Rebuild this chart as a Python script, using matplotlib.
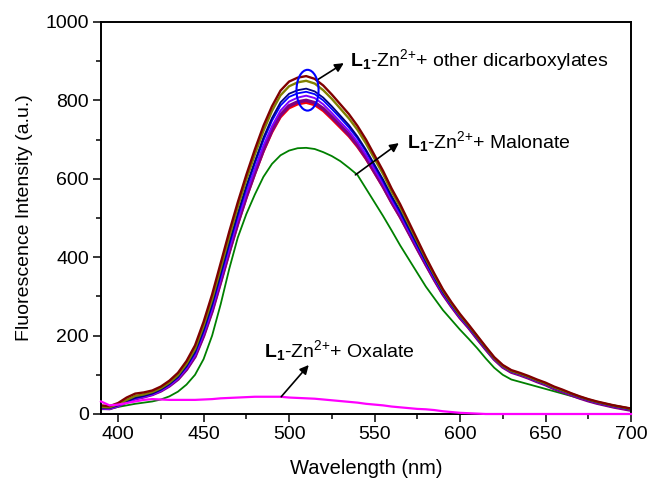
import matplotlib
matplotlib.use("Agg")
import matplotlib.pyplot as plt
from matplotlib.patches import Ellipse
from matplotlib.ticker import MultipleLocator

plt.rcParams['font.family'] = ['Liberation Sans', 'DejaVu Sans']
plt.rcParams['mathtext.fontset'] = 'custom'
plt.rcParams['mathtext.rm'] = 'Liberation Sans'
plt.rcParams['mathtext.it'] = 'Liberation Sans:italic'
plt.rcParams['mathtext.bf'] = 'Liberation Sans:bold'

# ---------------- data ----------------
wavelength = [390, 395, 400, 405, 410, 415, 420, 425, 430, 435, 440, 445, 450, 455, 460,
              465, 470, 475, 480, 485, 490, 495, 500, 505, 510, 515, 520, 525, 530, 535,
              540, 545, 550, 555, 560, 565, 570, 575, 580, 585, 590, 595, 600, 605, 610,
              615, 620, 625, 630, 635, 640, 645, 650, 655, 660, 665, 670, 675, 680, 685,
              690, 695, 700]

maroon = [22, 20, 28, 42, 52, 55, 60, 70, 85, 105, 135, 175, 235, 305, 385,
          465, 540, 610, 675, 735, 785, 825, 848, 858, 862, 855, 838, 815, 790, 765,
          735, 700, 660, 620, 575, 535, 490, 445, 400, 358, 318, 285, 255, 228, 200,
          172, 145, 125, 112, 105, 97, 88, 80, 70, 62, 53, 45, 38, 32, 27,
          22, 18, 14]
olive = [18, 17, 25, 36, 46, 50, 56, 66, 80, 99, 128, 166, 225, 293, 372,
         452, 528, 598, 662, 722, 773, 813, 836, 846, 850, 843, 826, 804, 779, 754,
         725, 690, 651, 612, 567, 528, 484, 440, 396, 354, 315, 282, 252, 226, 198,
         170, 143, 123, 110, 103, 95, 86, 78, 68, 60, 52, 44, 37, 31, 26,
         21, 17, 13]
navy = [16, 15, 22, 32, 41, 46, 52, 62, 76, 94, 122, 158, 214, 280, 358,
        437, 512, 582, 645, 705, 755, 795, 817, 826, 830, 823, 807, 785, 761, 737,
        708, 674, 636, 598, 556, 518, 475, 433, 390, 350, 311, 279, 250, 224, 196,
        168, 142, 122, 109, 102, 94, 85, 77, 67, 59, 51, 43, 36, 30, 25,
        20, 16, 12]
blue = [20, 18, 24, 34, 42, 47, 53, 63, 77, 95, 121, 156, 211, 277, 354,
        432, 507, 576, 639, 698, 748, 787, 809, 818, 822, 816, 800, 778, 755, 731,
        703, 670, 632, 594, 552, 514, 472, 430, 388, 348, 310, 278, 249, 223, 195,
        168, 142, 122, 109, 102, 94, 85, 77, 67, 59, 51, 43, 36, 30, 25,
        20, 16, 12]
violet = [14, 13, 20, 30, 38, 43, 49, 59, 72, 90, 116, 150, 204, 268, 344,
          421, 495, 563, 625, 684, 734, 774, 797, 807, 812, 806, 790, 768, 745, 722,
          694, 661, 624, 587, 546, 509, 467, 426, 385, 345, 308, 276, 247, 222, 194,
          167, 141, 121, 108, 101, 93, 84, 76, 66, 58, 50, 42, 35, 29, 24,
          19, 15, 11]
purple = [15, 14, 21, 31, 39, 44, 50, 59, 72, 89, 114, 147, 200, 263, 338,
          414, 487, 555, 616, 674, 724, 763, 786, 796, 800, 794, 779, 758, 736, 713,
          686, 654, 618, 581, 541, 504, 463, 422, 382, 343, 306, 275, 246, 221, 193,
          166, 140, 120, 107, 100, 92, 83, 75, 65, 57, 49, 41, 34, 28, 23,
          18, 14, 10]
red = [17, 16, 22, 32, 40, 45, 50, 59, 72, 89, 113, 146, 198, 261, 335,
       411, 484, 551, 612, 669, 718, 757, 780, 790, 794, 788, 773, 752, 730, 708,
       681, 650, 614, 578, 538, 501, 461, 420, 380, 341, 305, 274, 245, 220, 192,
       165, 140, 120, 107, 100, 92, 83, 75, 65, 57, 49, 41, 34, 28, 23,
       18, 14, 10]
malonate = [12, 13, 18, 22, 26, 29, 32, 37, 45, 57, 75, 100, 140, 200, 280,
            370, 450, 510, 560, 605, 638, 660, 672, 678, 679, 676, 668, 658, 645, 628,
            610, 575, 540, 505, 468, 430, 395, 360, 325, 295, 265, 240, 215, 192, 168,
            142, 118, 100, 88, 82, 76, 70, 64, 58, 52, 46, 40, 35, 30, 26,
            22, 18, 14]
oxalate = [32, 22, 24, 28, 32, 36, 38, 37, 36, 36, 36, 36, 37, 38, 40,
           41, 42, 43, 44, 44, 44, 44, 42, 41, 40, 39, 37, 35, 33, 31,
           29, 26, 24, 22, 19, 17, 15, 13, 12, 10, 7, 5, 3, 2, 1,
           0, 0, 0, 0, 0, 0, 0, 0, 0, 0, 0, 0, 0, 0, 0,
           0, 0, 0]

bundle = [
    (red, '#ff0000', 1.7),
    (purple, '#800080', 2.6),
    (violet, '#8000ff', 1.4),
    (blue, '#0000ff', 1.3),
    (navy, '#000080', 1.3),
    (olive, '#808000', 1.7),
    (maroon, '#800000', 1.7),
]

label_other = r'$\mathbf{L_1}$-Zn$^{2{+}}$+ other dicarboxylates'
label_malonate = r'$\mathbf{L_1}$-Zn$^{2{+}}$+ Malonate'
label_oxalate = r'$\mathbf{L_1}$-Zn$^{2{+}}$+ Oxalate'

# ---------------- figure ----------------
fig = plt.figure(figsize=(6.51, 4.82), dpi=100)
ax = fig.add_axes([101 / 651, 1 - 414 / 482, 530 / 651, 392 / 482])

ax.plot(wavelength, malonate, color='#008000', lw=1.3)
for ys, c, lw in bundle:
    ax.plot(wavelength, ys, color=c, lw=lw)
ax.plot(wavelength, oxalate, color='#ff00ff', lw=1.6, zorder=3, clip_on=False)

ax.set_xlim(390, 700)
ax.set_ylim(0, 1000)
ax.xaxis.set_major_locator(MultipleLocator(50))
ax.xaxis.set_minor_locator(MultipleLocator(25))
ax.yaxis.set_major_locator(MultipleLocator(200))
ax.yaxis.set_minor_locator(MultipleLocator(100))
ax.tick_params(which='both', direction='out', top=False, right=False, width=1.1)
ax.tick_params(which='major', length=5.8)
ax.tick_params(which='minor', length=3.6)
ax.tick_params(axis='x', labelsize=14, pad=3)
ax.tick_params(axis='y', labelsize=14, pad=3)
for sp in ax.spines.values():
    sp.set_linewidth(1.4)

ax.set_xlabel('Wavelength (nm)', fontsize=14.5, labelpad=11)
ax.set_ylabel('Fluorescence Intensity (a.u.)', fontsize=14, labelpad=9)

# annotations
ax.add_patch(Ellipse((510.8, 826), 12.9, 104, fill=False, edgecolor='#0000ff', lw=1.5, zorder=4))
arrow = dict(arrowstyle='-|>', color='black', lw=1.2, mutation_scale=13, shrinkA=0, shrinkB=0)
ax.annotate('', xy=(532.0, 895), xytext=(516.4, 852), arrowprops=arrow)
ax.annotate('', xy=(564.2, 691), xytext=(538.8, 610), arrowprops=arrow)
ax.annotate('', xy=(511.5, 125), xytext=(495.4, 44), arrowprops=arrow)
ax.text(535.9, 903, label_other, fontsize=14, ha='left', va='center')
ax.text(569.1, 695, label_malonate, fontsize=14, ha='left', va='center')
ax.text(485.2, 162, label_oxalate, fontsize=14, ha='left', va='center')

fig.savefig('out.png', dpi=100)
